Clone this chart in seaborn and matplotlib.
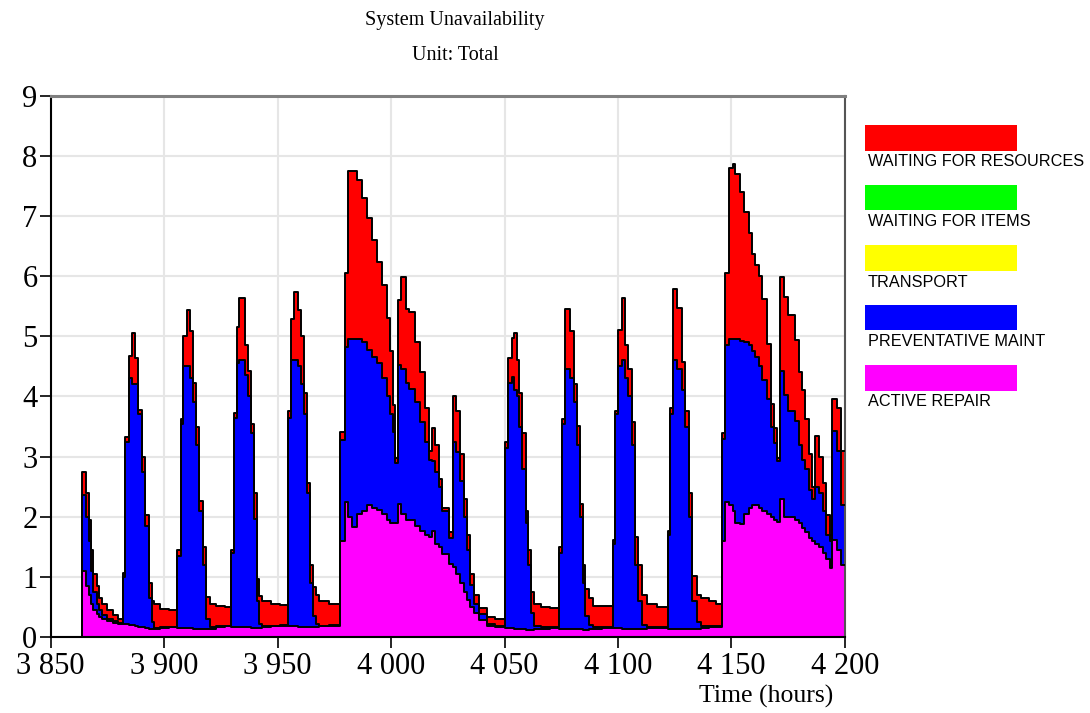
import numpy as np
import pandas as pd
import matplotlib
matplotlib.use("Agg")
import matplotlib.pyplot as plt
import seaborn as sns
from matplotlib.patches import Rectangle
from matplotlib.ticker import FuncFormatter, MultipleLocator

# ---------------- data ----------------
# start time of each step (hours); last step runs to END_TIME
TIME = [3864.0, 3865.5, 3866.7, 3867.7, 3868.7, 3870.2, 3871.4, 3872.8, 3875.0, 3877.5, 3879.5,
        3881.7, 3882.9, 3884.6, 3885.8, 3887.3, 3888.6, 3890.2, 3891.7, 3893.5, 3894.7, 3895.7, 3898.0, 3902.0,
        3905.5, 3907.5, 3908.5, 3910.0, 3911.4, 3912.6, 3914.1, 3915.5, 3917.0, 3918.5, 3920.0, 3923.0, 3927.0,
        3929.5, 3930.9, 3932.3, 3933.0, 3935.7, 3936.8, 3938.2, 3939.7, 3940.7, 3941.9, 3943.1, 3947.0, 3951.0,
        3954.4, 3955.9, 3957.1, 3958.8, 3960.3, 3961.8, 3962.8, 3964.3, 3965.8, 3966.9, 3968.4, 3972.8,
        3977.5, 3979.6, 3981.1, 3982.6, 3984.8, 3987.0, 3989.2, 3991.4, 3993.6, 3995.8, 3998.0, 3999.5, 4001.0, 4001.7,
        4003.1, 4004.2, 4006.7, 4008.0, 4010.4, 4012.6, 4014.8, 4016.8, 4018.0, 4019.5, 4021.0, 4022.5, 4025.5,
        4027.2, 4028.7, 4030.5, 4032.0, 4033.4, 4034.9, 4036.4, 4038.6, 4042.3, 4046.0,
        4050.2, 4051.6, 4053.1, 4054.3, 4055.3, 4056.5, 4057.8, 4059.3, 4060.5, 4061.8, 4063.0, 4066.0, 4070.0,
        4074.1, 4075.1, 4076.6, 4078.9, 4080.6, 4081.8, 4083.3, 4084.4, 4085.5, 4087.0, 4089.0, 4093.0,
        4098.0, 4098.7, 4099.8, 4101.7, 4103.2, 4104.6, 4106.1, 4107.6, 4109.0, 4110.5, 4112.7, 4117.0,
        4121.8, 4122.7, 4124.2, 4126.2, 4128.2, 4129.6, 4131.1, 4132.6, 4134.8, 4136.5, 4140.0, 4143.0,
        4145.8, 4147.0, 4148.8, 4150.5, 4151.7, 4153.9, 4155.4, 4157.6, 4159.1, 4160.5, 4162.0, 4163.5, 4165.7, 4167.2, 4168.6, 4170.1,
        4171.3, 4173.1, 4175.0, 4178.2, 4179.7, 4181.1, 4182.6, 4184.1, 4185.6, 4186.6, 4188.5, 4190.3, 4191.8, 4193.2, 4194.4, 4196.6, 4198.1]
END_TIME = 4200.0

ACTIVE_REPAIR = [1.09, 0.85, 0.70, 0.55, 0.45, 0.38, 0.33, 0.30, 0.27, 0.24, 0.22,
                 0.22, 0.21, 0.20, 0.20, 0.18, 0.17, 0.16, 0.15, 0.14, 0.13, 0.13, 0.15, 0.16,
                 0.15, 0.15, 0.15, 0.15, 0.15, 0.14, 0.14, 0.13, 0.13, 0.13, 0.14, 0.17, 0.18,
                 0.17, 0.17, 0.17, 0.17, 0.16, 0.16, 0.15, 0.15, 0.15, 0.15, 0.17, 0.18, 0.19,
                 0.18, 0.18, 0.18, 0.17, 0.17, 0.16, 0.16, 0.16, 0.16, 0.17, 0.18, 0.19,
                 1.60, 2.25, 2.00, 1.83, 2.05, 2.10, 2.19, 2.15, 2.11, 2.05, 1.95, 1.90, 1.89, 1.89,
                 2.22, 2.05, 1.94, 1.94, 1.85, 1.77, 1.70, 1.66, 1.77, 1.55, 1.50, 1.38, 1.22,
                 1.17, 1.05, 0.90, 0.75, 0.61, 0.50, 0.40, 0.28, 0.18, 0.16,
                 0.15, 0.15, 0.15, 0.14, 0.14, 0.13, 0.13, 0.12, 0.12, 0.12, 0.13, 0.14, 0.15,
                 0.14, 0.14, 0.14, 0.14, 0.13, 0.13, 0.13, 0.12, 0.12, 0.13, 0.14, 0.15,
                 0.15, 0.15, 0.15, 0.14, 0.14, 0.14, 0.13, 0.13, 0.13, 0.14, 0.15, 0.15,
                 0.14, 0.14, 0.14, 0.14, 0.13, 0.13, 0.13, 0.13, 0.14, 0.15, 0.16, 0.17,
                 1.60, 2.24, 2.20, 2.10, 1.90, 1.88, 2.05, 2.15, 2.20, 2.20, 2.15, 2.10, 2.05, 2.00, 1.95, 1.92,
                 2.30, 2.00, 2.00, 1.95, 1.90, 1.82, 1.75, 1.65, 1.60, 1.55, 1.50, 1.40, 1.30, 1.15, 1.61, 1.45, 1.20]

PREVENTATIVE_MAINT = [1.27, 1.15, 0.90, 0.55, 0.30, 0.17, 0.12, 0.06, 0.03, 0.02, 0.01,
                      0.78, 3.04, 4.10, 4.00, 4.02, 3.53, 2.59, 1.70, 0.51, 0.12, 0.02, 0.01, 0.01,
                      1.20, 3.40, 4.35, 4.35, 4.15, 3.76, 3.06, 1.97, 1.07, 0.17, 0.03, 0.01, 0.01,
                      1.23, 3.48, 4.38, 4.43, 4.19, 3.84, 3.25, 1.82, 0.45, 0.07, 0.01, 0.01, 0.01,
                      3.47, 4.42, 4.42, 4.33, 4.03, 3.54, 2.24, 0.74, 0.19, 0.05, 0.01, 0.01,
                      1.68, 2.58, 2.95, 3.12, 2.90, 2.80, 2.59, 2.50, 2.44, 2.25, 2.05, 1.80, 1.52, 1.01,
                      2.30, 2.40, 2.28, 2.19, 2.05, 1.81, 1.55, 1.29, 1.15, 1.20, 1.00, 0.72, 0.42,
                      2.08, 2.03, 1.70, 1.25, 0.84, 0.36, 0.15, 0.10, 0.04, 0.02,
                      3.00, 4.07, 4.18, 3.96, 3.86, 3.37, 2.67, 1.78, 1.08, 0.28, 0.05, 0.02, 0.01,
                      1.26, 3.41, 4.32, 4.16, 3.77, 3.07, 1.87, 0.78, 0.23, 0.07, 0.02, 0.01,
                      1.40, 3.55, 4.35, 4.46, 4.16, 3.86, 3.07, 1.07, 0.47, 0.06, 0.02, 0.01,
                      1.56, 3.56, 4.46, 4.31, 3.97, 3.37, 1.87, 0.47, 0.11, 0.03, 0.02, 0.01,
                      1.70, 2.61, 2.75, 2.85, 3.05, 3.05, 2.85, 2.70, 2.55, 2.45, 2.35, 2.18, 1.90, 1.50, 1.27, 1.00,
                      2.13, 2.02, 1.75, 1.65, 1.30, 1.13, 1.05, 0.80, 0.70, 0.95, 0.90, 0.70, 0.40, 0.45, 1.81, 1.65, 1.00]

TRANSPORT = [0.0] * len(TIME)
WAITING_FOR_ITEMS = [0.0] * len(TIME)

WAITING_FOR_RESOURCES = [0.39, 0.40, 0.35, 0.35, 0.30, 0.30, 0.20, 0.19, 0.15, 0.10, 0.07,
                         0.07, 0.07, 0.37, 0.86, 0.44, 0.08, 0.25, 0.18, 0.25, 0.35, 0.40, 0.30, 0.28,
                         0.09, 0.08, 0.50, 0.94, 0.79, 0.32, 0.30, 0.17, 0.30, 0.36, 0.38, 0.34, 0.31,
                         0.05, 0.07, 0.60, 1.03, 0.50, 0.43, 0.14, 0.42, 0.36, 0.47, 0.42, 0.36, 0.33,
                         0.10, 0.69, 1.14, 0.94, 0.80, 0.35, 0.16, 0.30, 0.49, 0.48, 0.41, 0.35,
                         0.13, 1.22, 2.79, 2.79, 2.65, 2.40, 2.19, 1.95, 1.69, 1.56, 1.30, 1.05, 0.45, 0.07,
                         1.08, 1.53, 1.23, 1.27, 1.00, 0.82, 0.55, 0.15, 0.55, 0.44, 0.12, 0.05, 0.11,
                         0.75, 0.67, 0.45, 0.30, 0.25, 0.19, 0.15, 0.10, 0.12, 0.12,
                         0.10, 0.42, 0.64, 0.95, 0.60, 0.55, 0.60, 0.20, 0.25, 0.35, 0.37, 0.34, 0.32,
                         0.10, 0.08, 1.00, 0.79, 0.30, 0.31, 0.21, 0.30, 0.45, 0.45, 0.36, 0.36,
                         0.06, 0.05, 0.60, 1.03, 0.55, 0.46, 0.37, 0.47, 0.60, 0.50, 0.38, 0.34,
                         0.06, 0.11, 1.19, 1.02, 0.48, 0.25, 0.39, 0.42, 0.45, 0.47, 0.42, 0.37,
                         0.09, 1.20, 2.84, 2.92, 2.75, 2.47, 2.17, 1.87, 1.61, 1.53, 1.50, 1.34, 0.93, 0.37, 0.26, 0.06,
                         1.55, 1.63, 1.60, 1.34, 1.20, 1.15, 0.83, 0.59, 0.20, 0.84, 0.60, 0.46, 0.33, 0.10, 0.54, 0.71, 0.90]

# stacking order (bottom -> top) and colours
SERIES = ["ACTIVE REPAIR", "PREVENTATIVE MAINT", "TRANSPORT", "WAITING FOR ITEMS", "WAITING FOR RESOURCES"]
COLORS = {"ACTIVE REPAIR": "#ff00ff", "PREVENTATIVE MAINT": "#0000ff", "TRANSPORT": "#ffff00",
          "WAITING FOR ITEMS": "#00ff00", "WAITING FOR RESOURCES": "#ff0000"}
LEGEND_ORDER = ["WAITING FOR RESOURCES", "WAITING FOR ITEMS", "TRANSPORT", "PREVENTATIVE MAINT", "ACTIVE REPAIR"]

X_TICKS = [3850, 3900, 3950, 4000, 4050, 4100, 4150, 4200]
Y_TICKS = list(range(0, 10))

# ---------------- build table ----------------
df = pd.DataFrame({
    "time": TIME,
    "ACTIVE REPAIR": ACTIVE_REPAIR,
    "PREVENTATIVE MAINT": PREVENTATIVE_MAINT,
    "TRANSPORT": TRANSPORT,
    "WAITING FOR ITEMS": WAITING_FOR_ITEMS,
    "WAITING FOR RESOURCES": WAITING_FOR_RESOURCES,
})
last = df.iloc[[-1]].copy()
last["time"] = END_TIME
df = pd.concat([df, last], ignore_index=True)

# ---------------- style ----------------
sns.set_theme(style="white")
plt.rcParams["font.family"] = ["Liberation Serif", "DejaVu Serif"]
for k in ["text.color", "axes.labelcolor", "xtick.color", "ytick.color"]:
    plt.rcParams[k] = "black"

fig = plt.figure(figsize=(10.9, 7.13), dpi=100)
ax = fig.add_axes([0.0465, 0.1065, 0.7287, 0.7593])

x = df["time"].to_numpy()
base = np.zeros(len(df))
tops = []
for name in SERIES:
    top = base + df[name].to_numpy()
    if df[name].sum() > 0:
        ax.fill_between(x, base, top, step="post", color=COLORS[name], lw=0, zorder=2)
        tops.append(top.copy())
    base = top

# black outline for each boundary
for top in tops:
    line = pd.DataFrame({"t": np.concatenate([[x[0]], x]), "v": np.concatenate([[0.0], top])})
    sns.lineplot(data=line, x="t", y="v", ax=ax, color="black", lw=1.4,
                 drawstyle="steps-post", estimator=None, sort=False, zorder=3)

ax.set_xlim(X_TICKS[0], X_TICKS[-1])
ax.set_ylim(Y_TICKS[0], Y_TICKS[-1])
ax.set_xticks(X_TICKS)
ax.set_yticks(Y_TICKS)
ax.xaxis.set_major_formatter(FuncFormatter(lambda v, p: f"{int(v):,}".replace(",", " ")))
ax.set_axisbelow(True)
ax.grid(True, color="#e6e6e6", lw=1.5, zorder=0)

ax.tick_params(axis="both", which="major", direction="out", length=8, width=1.2,
               color="black", labelsize=22, bottom=True, left=True)
ax.tick_params(axis="y", pad=1.5)
ax.tick_params(axis="x", pad=3)

ax.spines["left"].set_color("black")
ax.spines["bottom"].set_color("black")
ax.spines["left"].set_linewidth(1.5)
ax.spines["bottom"].set_linewidth(1.5)
ax.spines["top"].set_color("#808080")
ax.spines["top"].set_linewidth(2.2)
ax.spines["right"].set_color("#555555")
ax.spines["right"].set_linewidth(1.5)

ax.set_ylabel("")
ax.set_xlabel("Time (hours)", fontsize=18.5)
ax.xaxis.set_label_coords(0.9006, -0.088)

# titles
fig.text(0.4174, 1 - 20 / 713, "System Unavailability", ha="center", va="center", fontsize=14.5)
fig.text(0.4174, 1 - 56 / 713, "Unit: Total", ha="center", va="center", fontsize=14.5)

# legend (swatches with label underneath)
W, H = 1090.0, 713.0
for i, name in enumerate(LEGEND_ORDER):
    y_top = 125 + 60 * i
    fig.patches.append(Rectangle((864.5 / W, 1 - (y_top + 25.5) / H), 152.5 / W, 25.5 / H,
                                 transform=fig.transFigure, facecolor=COLORS[name],
                                 edgecolor="none"))
    fig.text(868 / W, 1 - (y_top + 37) / H, name, ha="left", va="center",
             fontsize=11.7, family=["Liberation Sans", "DejaVu Sans"])

fig.savefig("out.png", dpi=100)
